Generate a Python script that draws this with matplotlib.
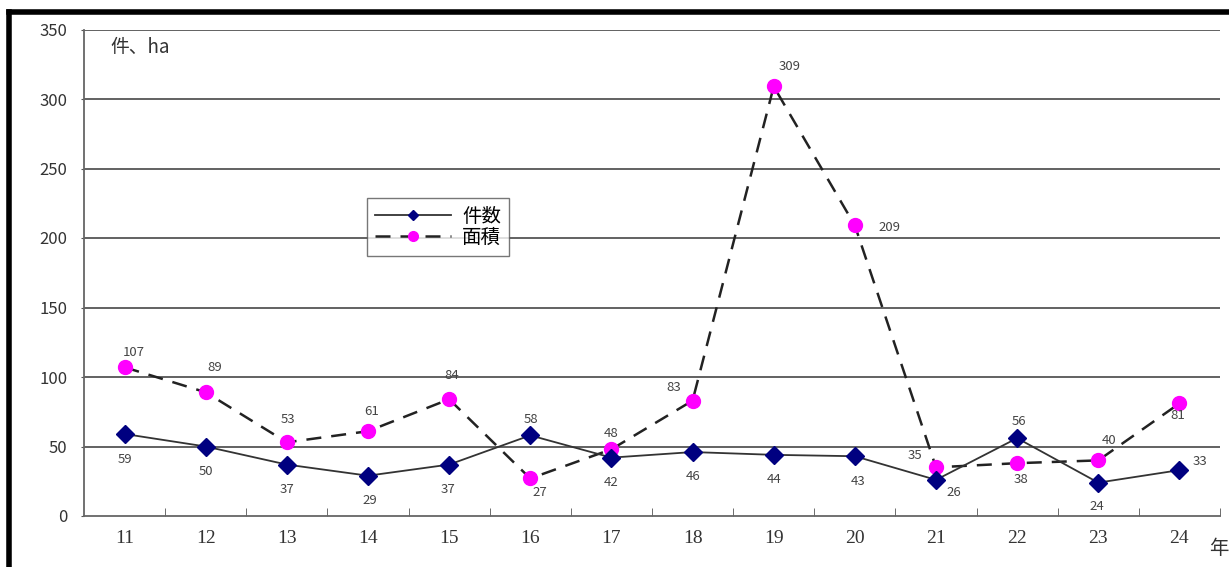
import matplotlib
matplotlib.use("Agg")
import matplotlib.pyplot as plt
from matplotlib.lines import Line2D

plt.rcParams['font.family'] = ['Noto Sans CJK JP', 'DejaVu Sans']

years = ['11', '12', '13', '14', '15', '16', '17', '18', '19', '20', '21', '22', '23', '24']
counts = [59, 50, 37, 29, 37, 58, 42, 46, 44, 43, 26, 56, 24, 33]
areas = [107, 89, 53, 61, 84, 27, 48, 83, 309, 209, 35, 38, 40, 81]
count_label_off = [(0, -26), (0, -25), (0, -25), (2, -25), (-1, -25), (1, 16), (0, -25), (1, -24),
                   (0, -25), (3, -25), (18, -13), (2, 17), (-1, -24), (21, 9)]
area_label_off = [(9, 15), (9, 25), (1, 23), (4, 20), (3, 24), (10, -14), (0, 16), (-19, 13),
                  (16, 20), (35, -2), (-21, 12), (4, -16), (11, 20), (-2, -12)]

fig = plt.figure(figsize=(12.29, 5.67), dpi=100)
ax = fig.add_axes([84/1229, 51/567, 1136/1229, 486.5/567])

x = list(range(len(years)))
ax.plot(x, counts, color='#333333', lw=1.3, marker='D', markersize=9,
        markerfacecolor='#000080', markeredgecolor='#000080', zorder=4, label='件数')
ax.plot(x, areas, color='#222222', lw=1.8, dashes=(6, 4), marker='o', markersize=10,
        markerfacecolor='#FF00FF', markeredgecolor='#FF00FF', zorder=3, label='面積')

for i, (v, (dx, dy)) in enumerate(zip(counts, count_label_off)):
    ax.annotate(str(v), (i, v), xytext=(dx * 0.72, dy * 0.72), textcoords='offset points',
                ha='center', va='center', fontsize=9.5, color='#444444', zorder=5)
for i, (v, (dx, dy)) in enumerate(zip(areas, area_label_off)):
    ax.annotate(str(v), (i, v), xytext=(dx * 0.72, dy * 0.72), textcoords='offset points',
                ha='center', va='center', fontsize=9.5, color='#444444', zorder=5)

ax.set_xlim(-0.5, len(years) - 0.5)
ax.set_ylim(0, 350)
ax.set_yticks(range(0, 351, 50))
ax.set_yticklabels([str(v) for v in range(0, 351, 50)], fontsize=12, color='#333333')
ax.set_xticks(x)
ax.set_xticklabels(years, fontsize=14, color='#333333', family=['Liberation Serif', 'DejaVu Serif'])
ax.set_xticks([i + 0.5 for i in range(len(years))], minor=True)
ax.tick_params(axis='x', which='major', length=0, pad=10)
ax.tick_params(axis='x', which='minor', direction='in', length=6, color='#555555')
ax.tick_params(axis='y', length=2, color='#555555', pad=10)

for yv in range(50, 351, 50):
    ax.axhline(yv, color='#555555', lw=1.3, zorder=1)
for s in ['top', 'right']:
    ax.spines[s].set_visible(False)
ax.spines['left'].set_color('#666666')
ax.spines['bottom'].set_color('#666666')
ax.spines['left'].set_linewidth(1.3)
ax.spines['bottom'].set_linewidth(1.3)

fig.text(110/1229, 1 - 47/567, '件、ha', fontsize=13.5, color='#333333', va='center', ha='left',
         family=['Noto Sans CJK JP', 'Liberation Serif'])
fig.text(1209/1229, 1 - 549/567, '年', fontsize=14, color='#333333', va='center', ha='left')

handles = [Line2D([0], [0], color='#333333', lw=1.3, marker='D', markersize=5,
                  markerfacecolor='#000080', markeredgecolor='#000080'),
           Line2D([0], [0], color='#222222', lw=1.8, dashes=(6, 4), marker='o', markersize=7,
                  markerfacecolor='#FF00FF', markeredgecolor='#FF00FF')]
leg = ax.legend(handles, ['件数', '面積'], loc='upper left',
                bbox_to_anchor=((367 - 84) / 1136, (516 - 198) / 486.5), borderaxespad=0,
                fontsize=14, frameon=True, fancybox=False, edgecolor='#555555',
                handlelength=3.9, borderpad=0.4, labelspacing=0.02, handletextpad=0.6)
leg.get_frame().set_linewidth(1.0)

# outer frame
fig.add_artist(Line2D([9/1229, 9/1229], [0, 1 - 12/567], color='black', lw=4, transform=fig.transFigure))
fig.add_artist(Line2D([9/1229, 1], [1 - 12/567, 1 - 12/567], color='black', lw=4, transform=fig.transFigure))

fig.savefig('out.png', dpi=100)
